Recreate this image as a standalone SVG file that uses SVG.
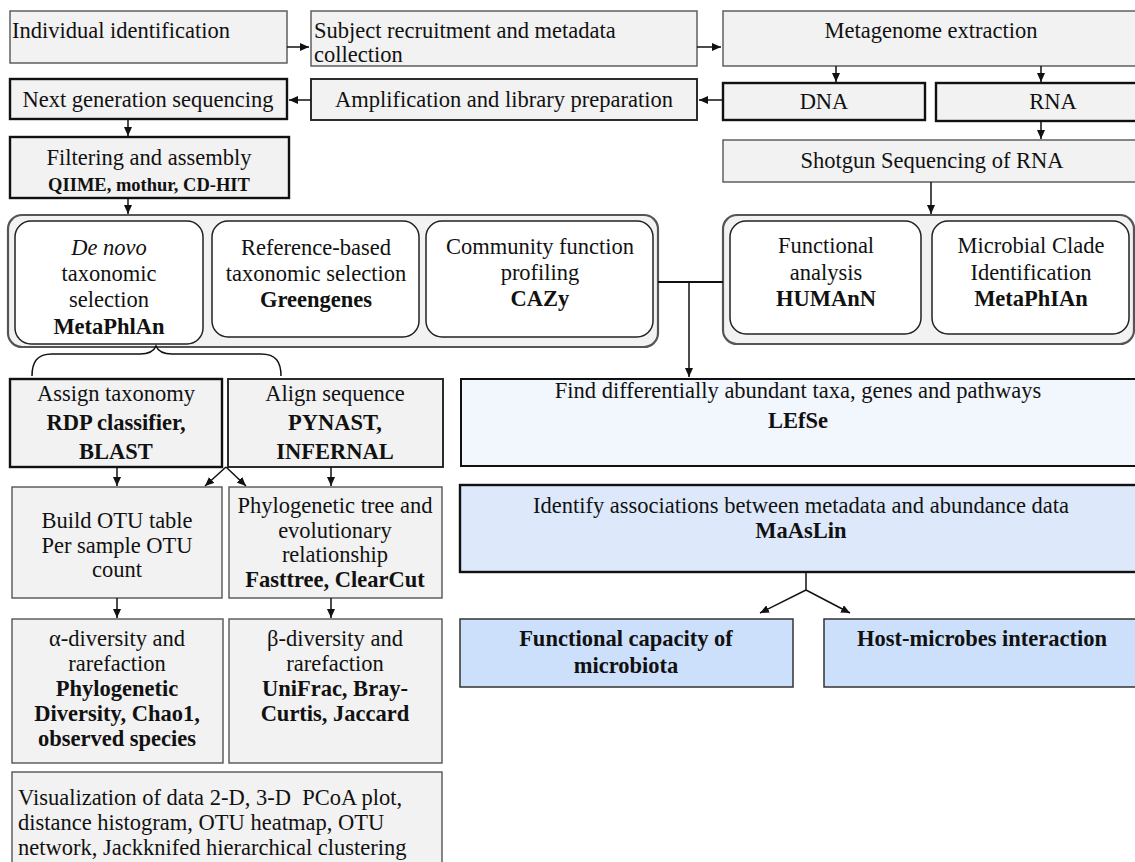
<svg xmlns="http://www.w3.org/2000/svg" width="1135" height="862" viewBox="0 0 1135 862">
<style>
text{font-family:'Liberation Serif','Times New Roman',serif;font-size:22.5px;fill:#111}
.m{text-anchor:middle}
.b{font-weight:bold}
.s{font-size:18.5px}
.i{font-style:italic}
.g1{fill:#f2f2f2;stroke:#555;stroke-width:1.4}
.g2{fill:#f2f2f2;stroke:#111;stroke-width:2.4}
.g3{fill:#f2f2f2;stroke:#222;stroke-width:1.9}
.cont{fill:#f2f2f2;stroke:#555;stroke-width:2.2}
.inner{fill:#fff;stroke:#222;stroke-width:1.5}
.bl1{fill:#f2f6fd;stroke:#111;stroke-width:2}
.bl2{fill:#dde9fb;stroke:#111;stroke-width:2.4}
.bl3{fill:#cde0fb;stroke:#333;stroke-width:1.5}
.c{fill:none;stroke:#111;stroke-width:1.5}
.a{marker-end:url(#ah)}
</style>
<defs>
<marker id="ah" markerUnits="userSpaceOnUse" markerWidth="9" markerHeight="8" refX="9" refY="4" orient="auto">
<path d="M0,0 L9,4 L0,8 z" fill="#111"/>
</marker>
</defs>

<g id="individual"><rect class="g1" x="10" y="11" width="277" height="52"/><text x="12" y="38">Individual identification</text></g>
<g id="subject"><rect class="g1" x="311" y="11" width="386" height="55"/><text x="314" y="38">Subject recruitment and metadata</text><text x="314" y="62">collection</text></g>
<g id="metagenome"><rect class="g1" x="723" y="11" width="418" height="55"/><text class="m" x="931" y="38">Metagenome extraction</text></g>

<g id="nextgen"><rect class="g2" x="10" y="79" width="277" height="40"/><text class="m" x="148" y="107">Next generation sequencing</text></g>
<g id="amplification"><rect class="g3" x="311" y="79" width="386" height="41"/><text class="m" x="504" y="107">Amplification and library preparation</text></g>
<g id="dna"><rect class="g2" x="723" y="83" width="202" height="37"/><text class="m" x="824" y="109">DNA</text></g>
<g id="rna"><rect class="g2" x="936" y="83" width="210" height="38"/><text class="m" x="1053" y="109">RNA</text></g>

<g id="filtering"><rect class="g2" x="10" y="137" width="279" height="61"/><text class="m" x="149" y="165">Filtering and assembly</text><text class="m b s" x="149" y="191">QIIME, mothur, CD-HIT</text></g>
<g id="shotgun"><rect class="g1" x="723" y="140" width="418" height="42"/><text class="m" x="932" y="168">Shotgun Sequencing of RNA</text></g>

<g id="left-container"><rect class="cont" x="8" y="215" width="650" height="132" rx="14"/></g>
<g id="denovo"><rect class="inner" x="15" y="221" width="188" height="123" rx="16"/><text class="m i" x="109" y="255">De novo</text><text class="m" x="109" y="281">taxonomic</text><text class="m" x="109" y="307">selection</text><text class="m b" x="109" y="334">MetaPhlAn</text></g>
<g id="reference"><rect class="inner" x="212" y="221" width="207" height="116" rx="16"/><text class="m" x="316" y="255">Reference-based</text><text class="m" x="316" y="281">taxonomic selection</text><text class="m b" x="316" y="307">Greengenes</text></g>
<g id="community"><rect class="inner" x="426" y="221" width="227" height="116" rx="16"/><text class="m" x="540" y="254">Community function</text><text class="m" x="540" y="280">profiling</text><text class="m b" x="540" y="306">CAZy</text></g>

<g id="right-container"><rect class="cont" x="723" y="215" width="411" height="129" rx="14"/></g>
<g id="functional"><rect class="inner" x="730" y="221" width="191" height="113" rx="16"/><text class="m" x="826" y="253">Functional</text><text class="m" x="826" y="280">analysis</text><text class="m b" x="826" y="306">HUMAnN</text></g>
<g id="microbial"><rect class="inner" x="932" y="221" width="197" height="113" rx="16"/><text class="m" x="1031" y="253">Microbial Clade</text><text class="m" x="1031" y="280">Identification</text><text class="m b" x="1031" y="306">MetaPhIAn</text></g>

<g id="assign"><rect class="g2" x="10" y="379" width="212" height="88"/><text class="m" x="116" y="401">Assign taxonomy</text><text class="m b" x="116" y="430">RDP classifier,</text><text class="m b" x="116" y="459">BLAST</text></g>
<g id="align"><rect class="g3" x="228" y="379" width="215" height="88"/><text class="m" x="335" y="401">Align sequence</text><text class="m b" x="335" y="430">PYNAST,</text><text class="m b" x="335" y="459">INFERNAL</text></g>
<g id="find"><rect class="bl1" x="461" y="379" width="685" height="87"/><text class="m" x="798" y="398">Find differentially abundant taxa, genes and pathways</text><text class="m b" x="798" y="428">LEfSe</text></g>

<g id="otu"><rect class="g1" x="12" y="487" width="210" height="111"/><text class="m" x="117" y="528">Build OTU table</text><text class="m" x="117" y="553">Per sample OTU</text><text class="m" x="117" y="577">count</text></g>
<g id="phylo"><rect class="g1" x="229" y="487" width="213" height="111"/><text class="m" x="335" y="513">Phylogenetic tree and</text><text class="m" x="335" y="538">evolutionary</text><text class="m" x="335" y="562">relationship</text><text class="m b" x="335" y="587">Fasttree, ClearCut</text></g>
<g id="maaslin"><rect class="bl2" x="460" y="485" width="686" height="87"/><text class="m" x="801" y="513">Identify associations between metadata and abundance data</text><text class="m b" x="801" y="538">MaAsLin</text></g>

<g id="alpha"><rect class="g1" x="12" y="619" width="211" height="144"/><text class="m" x="117" y="646">α-diversity and</text><text class="m" x="117" y="671">rarefaction</text><text class="m b" x="117" y="696">Phylogenetic</text><text class="m b" x="117" y="721">Diversity, Chao1,</text><text class="m b" x="117" y="746">observed species</text></g>
<g id="beta"><rect class="g1" x="229" y="619" width="213" height="144"/><text class="m" x="335" y="646">β-diversity and</text><text class="m" x="335" y="671">rarefaction</text><text class="m b" x="335" y="696">UniFrac, Bray-</text><text class="m b" x="335" y="721">Curtis, Jaccard</text></g>
<g id="capacity"><rect class="bl3" x="460" y="619" width="333" height="68"/><text class="m b" x="626" y="646">Functional capacity of</text><text class="m b" x="626" y="673">microbiota</text></g>
<g id="host"><rect class="bl3" x="824" y="619" width="322" height="68"/><text class="m b" x="982" y="646">Host-microbes interaction</text></g>

<g id="visualization"><rect class="g1" x="12" y="772" width="430" height="100"/><text x="18" y="805" xml:space="preserve">Visualization of data 2-D, 3-D  PCoA plot,</text><text x="18" y="830">distance histogram, OTU heatmap, OTU</text><text x="18" y="855">network, Jackknifed hierarchical clustering</text></g>

<g id="connectors">
<line class="c a" x1="287" y1="47" x2="309" y2="47"/>
<line class="c a" x1="697" y1="47" x2="721" y2="47"/>
<line class="c a" x1="836" y1="66" x2="836" y2="82"/>
<line class="c a" x1="1041" y1="66" x2="1041" y2="82"/>
<line class="c a" x1="723" y1="100" x2="699" y2="100"/>
<line class="c a" x1="311" y1="100" x2="289" y2="100"/>
<line class="c a" x1="1041" y1="121" x2="1041" y2="139"/>
<line class="c a" x1="128" y1="119" x2="128" y2="136"/>
<line class="c a" x1="128" y1="198" x2="128" y2="214"/>
<line class="c a" x1="931" y1="182" x2="931" y2="214"/>
<line class="c" x1="658" y1="282" x2="723" y2="282" style="stroke-width:2"/>
<line class="c a" x1="689" y1="282" x2="689" y2="377"/>
<path class="c" d="M32,376 C32,362 37,354 52,354 L140,354 C150,354 154,351 156,346 C158,351 162,354 172,354 L261,354 C276,354 281,362 281,376"/>
<line class="c a" x1="117" y1="467" x2="117" y2="486"/>
<line class="c a" x1="226" y1="467" x2="205" y2="486"/>
<line class="c a" x1="226" y1="467" x2="246" y2="486"/>
<line class="c a" x1="331" y1="467" x2="331" y2="486"/>
<line class="c a" x1="117" y1="598" x2="117" y2="618"/>
<line class="c a" x1="331" y1="598" x2="331" y2="618"/>
<line class="c" x1="806" y1="572" x2="806" y2="590"/>
<line class="c a" x1="806" y1="590" x2="760" y2="613"/>
<line class="c a" x1="806" y1="590" x2="850" y2="613"/>
</g>
</svg>
